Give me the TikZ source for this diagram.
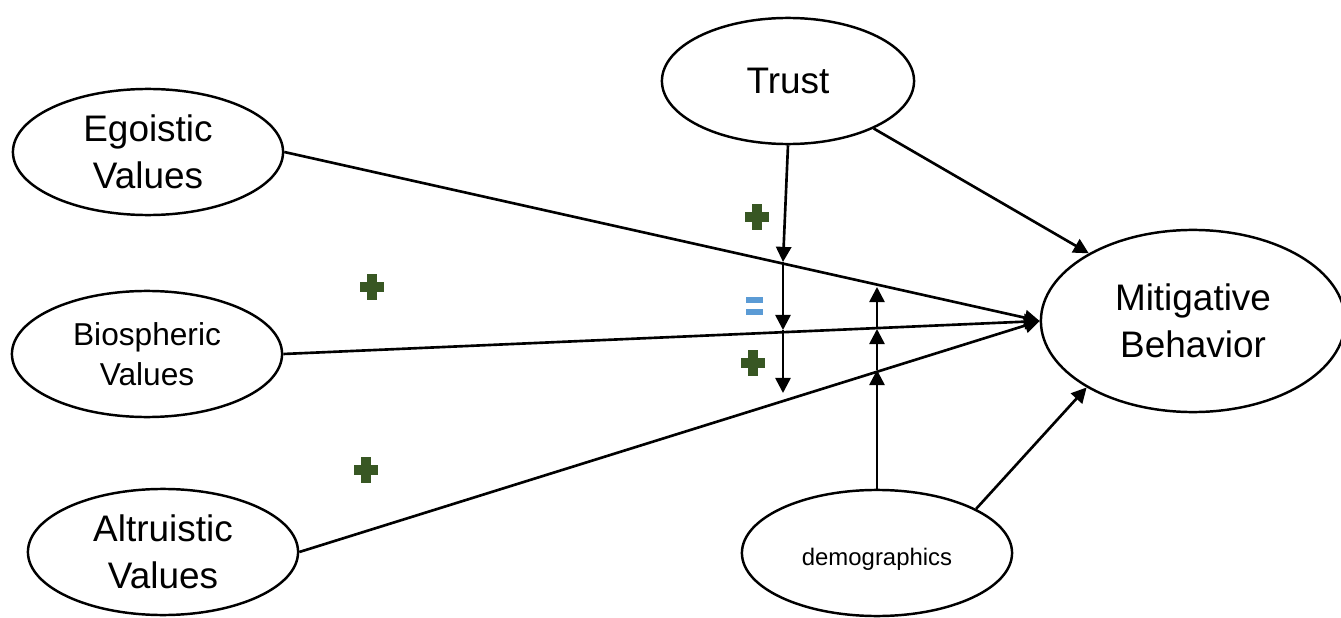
\documentclass[tikz,border=0pt]{standalone}
\usepackage{fontspec}
\setmainfont{Liberation Sans}
\usetikzlibrary{shapes.geometric,arrows.meta}
\definecolor{plusgreen}{HTML}{385723}
\definecolor{eqblue}{HTML}{5B9BD5}

\begin{document}
\begin{tikzpicture}[x=0.01cm,y=-0.01cm,
    construct/.style={ellipse,draw,line width=0.7pt,inner sep=0pt,align=center,
      minimum width=2.7cm,minimum height=1.26cm,font=\fontsize{10.5}{13.4}\selectfont},
    link/.style={line width=0.75pt,-{Triangle[length=4.3pt,width=4.3pt]}},
    pics/plussign/.style={code={
      \fill[plusgreen] (-12,-5) rectangle (12,5);
      \fill[plusgreen] (-5,-13) rectangle (5,13);}},
    pics/equalsign/.style={code={
      \fill[eqblue] (-8.5,-9) rectangle (8.5,-3);
      \fill[eqblue] (-8.5,3) rectangle (8.5,9);}}]
        \useasboundingbox (0,0) rectangle (1341,618);

        % Constructs
        \node[construct] (ego) at (148,152) {Egoistic\\Values};
        \node[construct,font=\fontsize{9}{11.4}\selectfont] (bio) at (147,354) {Biospheric\\Values};
        \node[construct] (alt) at (163,552) {Altruistic\\Values};
        \node[construct,minimum width=2.52cm] (trust) at (788,81) {Trust};
        \node[construct,minimum width=3.04cm,minimum height=1.82cm] (mit) at (1193,321) {Mitigative\\Behavior};
        \node[construct,font=\fontsize{6.8}{8}\selectfont,text height=8.4pt,text depth=1.5pt] (demo) at (877,553) {demographics};

        % Direct paths
        \draw[link] (ego.east) -- (mit.west);
        \draw[link] (bio.east) -- (mit.west);
        \draw[link] (alt.east) -- (mit.west);
        \draw[link] (trust.-29) -- (mit.147);
        \draw[link] (demo.24) -- (mit.212);

        % Moderation by trust
        \coordinate (tE) at (783,262);
        \coordinate (tB) at (783,330);
        \coordinate (tA) at (783,393);
        \draw[link] (trust.south) -- (tE);
        \draw[link] (tE) -- (tB);
        \draw[link] (tB) -- (tA);

        % Moderation by demographics
        \coordinate (dA) at (877,370);
        \coordinate (dB) at (877,329);
        \coordinate (dE) at (877,287);
        \draw[link] (demo.north) -- (dA);
        \draw[link] (dA) -- (dB);
        \draw[link] (dB) -- (dE);

        % Signs
        \pic at (372,287) {plussign};
        \pic at (366,470) {plussign};
        \pic at (757,217) {plussign};
        \pic at (753,363) {plussign};
        \pic at (754.5,305.5) {equalsign};
    \end{tikzpicture}
\end{document}
